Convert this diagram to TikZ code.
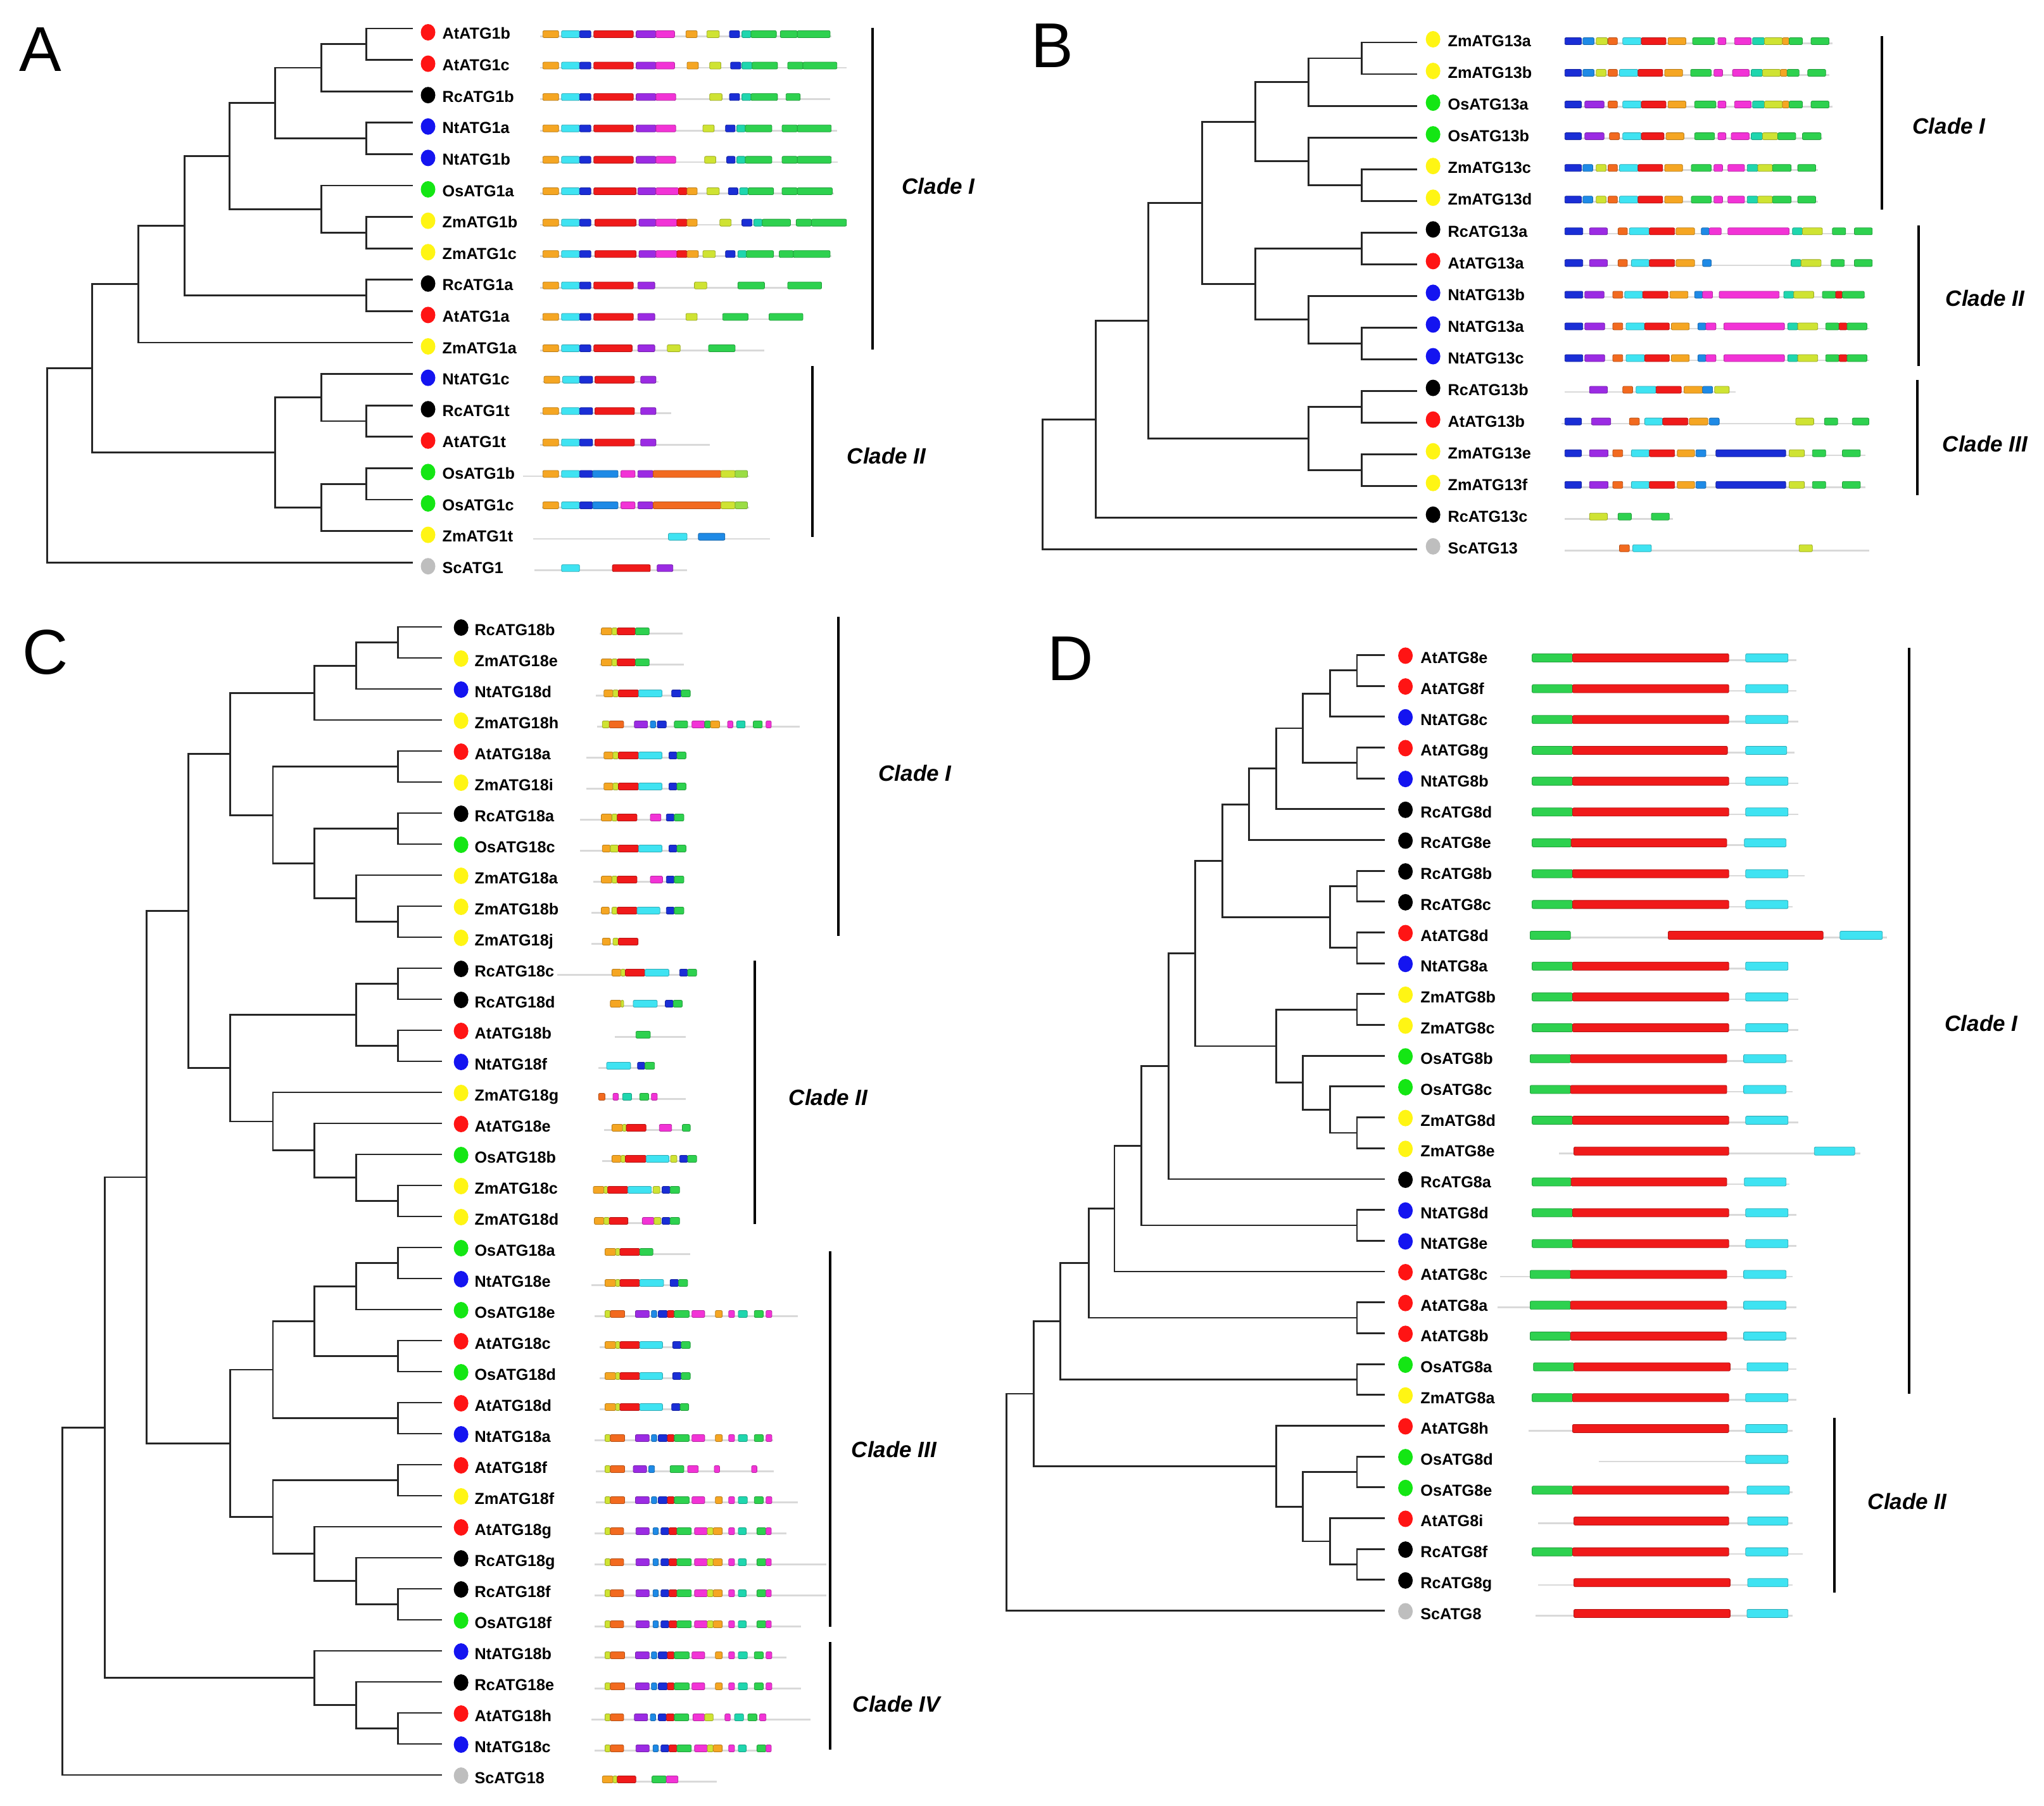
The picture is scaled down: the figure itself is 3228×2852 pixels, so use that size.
\documentclass[tikz,border=0pt]{standalone}
\usepackage{fontspec}
\setmainfont{Liberation Sans}
\usetikzlibrary{calc,shapes.geometric}
\definecolor{mO}{HTML}{F5A623}
\definecolor{mC}{HTML}{3FE3F2}
\definecolor{mB}{HTML}{1A2ED6}
\definecolor{mR}{HTML}{F01A1A}
\definecolor{mP}{HTML}{9B2BE3}
\definecolor{mM}{HTML}{F233D6}
\definecolor{mY}{HTML}{CFE333}
\definecolor{mG}{HTML}{2ED14F}
\definecolor{mT}{HTML}{1FD6AE}
\definecolor{mD}{HTML}{F26A1F}
\definecolor{mZ}{HTML}{1E8AE6}
\definecolor{mQ}{HTML}{9BDD45}
\definecolor{dR}{HTML}{FF1414}
\definecolor{dK}{HTML}{000000}
\definecolor{dB}{HTML}{1414F0}
\definecolor{dG}{HTML}{14E614}
\definecolor{dY}{HTML}{FFF514}
\definecolor{dS}{HTML}{BEBEBE}
\definecolor{bbc}{HTML}{D9D9D9}
\definecolor{brc}{HTML}{262626}
\tikzset{
 branch/.style={draw=brc, line width=1.45pt, line cap=rect, line join=miter},
 bb/.style={draw=bbc, line width=1.3pt},
 motif/.style={line width=0.4pt, rounded corners=1pt},
 gdot/.style={ellipse, minimum width=11.5pt, minimum height=13pt, inner sep=0pt, draw=none},
 lab/.style={anchor=base west, inner sep=0pt, font=\fontsize{12.6}{14}\selectfont\bfseries, text=black},
 clab/.style={inner sep=0pt, font=\fontsize{17.5}{20}\selectfont\bfseries\itshape},
 plab/.style={inner sep=0pt, font=\fontsize{50}{50}\selectfont},
 cbar/.style={line width=1.8pt},
}
\newcommand\gene[7]{%
  \pgfmathsetmacro\gy{\Yz+\Ys*#2}%
  \coordinate (#1) at (\LX,\gy);
  \draw[bb] (#5,{\gy+\MY+3.5}) -- (#6,{\gy+\MY+3.5});
  \edef\gmlist{#7}%
  \foreach \ma/\mz/\mc in \gmlist {\filldraw[motif,fill=\mc,draw=\mc!75!black] (\ma,{\gy+\MY-\BH}) rectangle (\mz,{\gy+\MY+\BH});}
  \node[gdot,fill=#3] (#1d) at (\DX,{\gy+\DY}) {};
  \node[lab] (#1n) at (\TX,{\gy+\TY}) {#4};
}
\newcommand\tj[4]{%
  \coordinate (tmpm) at ($(#3)!0.5!(#4)$);
  \coordinate (tmpx) at (#2,0);
  \coordinate (#1) at (tmpx |- tmpm);
  \draw[branch] (#3) -| (#1) |- (#4);
}
\def\LA{1135/1145/mY,1145/1172/mD,1192/1218/mP,1222/1232/mZ,1235/1252/mB,1252/1265/mR,1265/1293/mG,1298/1322/mM,1342/1355/mO,1367/1378/mM,1385/1402/mT,1415/1432/mG,1437/1448/mM}
\def\LB{1135/1145/mY,1145/1170/mD,1193/1218/mP,1225/1235/mZ,1240/1255/mB,1255/1270/mR,1270/1297/mG,1303/1327/mM,1327/1338/mY,1338/1355/mO,1367/1378/mM,1385/1400/mT,1420/1437/mG,1437/1447/mM}
\def\BC{848/873/mB,875/890/mZ,895/910/mY,913/927/mD,930/958/mC,958/995/mR,998/1025/mO,1038/1068/mG,1072/1085/mM,1093/1118/mM,1122/1138/mT,1138/1160/mY,1160/1188/mG,1198/1225/mG}
\def\BN{848/875/mB,878/908/mP,920/935/mD,940/968/mC,968/1005/mR,1008/1035/mO,1048/1060/mZ,1060/1075/mM,1087/1178/mM,1183/1198/mT,1198/1228/mY,1240/1260/mG,1260/1272/mR,1272/1302/mG}
\def\BE{848/873/mB,885/913/mP,920/935/mD,948/975/mC,975/1013/mR,1017/1043/mO,1045/1060/mZ,1075/1180/mB,1185/1208/mY,1220/1240/mG,1265/1292/mG}
\def\DS{808/868/mG,868/1100/mR,1125/1188/mC}
\def\DT{805/865/mG,865/1097/mR,1122/1185/mC}
\begin{document}
\begin{tikzpicture}[x=0.5pt,y=-0.5pt]
\useasboundingbox (0,0) rectangle (3228,2852);
\fill[white] (0,0) rectangle (3228,2852);
% ---------------- Panel A ----------------
\begin{scope}[x=0.4465pt]
\def\Yz{45}\def\Ys{49.6}\def\LX{728}\def\DX{757}\def\TX{782}\def\DY{6}\def\TY{17}\def\MY{9}\def\BH{5.5}
\gene{A0}{0}{dR}{AtATG1b}{955}{1470}{960/988/mO,993/1025/mC,1025/1045/mB,1050/1120/mR,1125/1160/mP,1160/1193/mM,1213/1233/mO,1250/1272/mY,1290/1308/mB,1312/1328/mT,1328/1373/mG,1380/1410/mG,1410/1468/mG}
\gene{A1}{1}{dR}{AtATG1c}{955}{1497}{960/988/mO,993/1025/mC,1025/1045/mB,1050/1120/mR,1125/1160/mP,1160/1193/mM,1215/1235/mO,1255/1275/mY,1292/1310/mB,1312/1330/mT,1330/1375/mG,1393/1420/mG,1420/1480/mG}
\gene{A2}{2}{dK}{RcATG1b}{955}{1468}{960/988/mO,993/1025/mC,1025/1045/mB,1050/1120/mR,1125/1160/mP,1160/1195/mM,1255/1277/mY,1290/1308/mB,1312/1328/mT,1328/1375/mG,1390/1415/mG}
\gene{A3}{3}{dB}{NtATG1a}{955}{1480}{960/988/mO,993/1025/mC,1025/1045/mB,1050/1120/mR,1125/1160/mP,1160/1195/mM,1243/1263/mY,1283/1300/mB,1303/1318/mT,1318/1365/mG,1383/1410/mG,1410/1470/mG}
\gene{A4}{4}{dB}{NtATG1b}{955}{1482}{960/988/mO,993/1025/mC,1025/1045/mB,1050/1120/mR,1125/1160/mP,1160/1195/mM,1246/1266/mY,1285/1300/mB,1303/1318/mT,1318/1365/mG,1383/1410/mG,1410/1470/mG}
\gene{A5}{5}{dG}{OsATG1a}{955}{1475}{960/988/mO,993/1025/mC,1025/1045/mB,1050/1125/mR,1128/1160/mP,1160/1200/mM,1200/1215/mR,1215/1233/mO,1250/1272/mY,1288/1305/mB,1308/1323/mT,1323/1368/mG,1383/1410/mG,1410/1472/mG}
\gene{A6}{6}{dY}{ZmATG1b}{955}{1497}{960/988/mO,993/1025/mC,1025/1045/mB,1052/1125/mR,1130/1160/mP,1160/1197/mM,1197/1215/mR,1215/1233/mO,1273/1293/mY,1312/1330/mB,1333/1348/mT,1348/1398/mG,1408/1435/mG,1435/1497/mG}
\gene{A7}{7}{dY}{ZmATG1c}{955}{1470}{960/988/mO,993/1025/mC,1025/1045/mB,1052/1125/mR,1130/1160/mP,1160/1197/mM,1197/1215/mR,1215/1235/mO,1243/1265/mY,1283/1300/mB,1305/1320/mT,1320/1368/mG,1378/1403/mG,1403/1468/mG}
\gene{A8}{8}{dK}{RcATG1a}{955}{1453}{960/988/mO,993/1025/mC,1025/1045/mB,1050/1120/mR,1128/1158/mP,1228/1250/mY,1305/1352/mG,1393/1453/mG}
\gene{A9}{9}{dR}{AtATG1a}{955}{1420}{960/988/mO,993/1025/mC,1025/1045/mB,1050/1120/mR,1128/1158/mP,1213/1233/mY,1278/1323/mG,1360/1420/mG}
\gene{A10}{10}{dY}{ZmATG1a}{955}{1352}{960/988/mO,993/1025/mC,1025/1045/mB,1050/1118/mR,1128/1158/mP,1180/1203/mY,1253/1300/mG}
\gene{A11}{11}{dB}{NtATG1c}{960}{1165}{962/990/mO,995/1025/mC,1025/1048/mB,1052/1122/mR,1133/1160/mP}
\gene{A12}{12}{dK}{RcATG1t}{955}{1187}{960/988/mO,993/1025/mC,1025/1048/mB,1052/1122/mR,1133/1160/mP}
\gene{A13}{13}{dR}{AtATG1t}{955}{1255}{960/988/mO,993/1025/mC,1025/1048/mB,1052/1122/mR,1133/1160/mP}
\gene{A14}{14}{dG}{OsATG1b}{925}{1325}{960/988/mO,993/1025/mC,1025/1048/mB,1048/1093/mZ,1098/1123/mM,1128/1155/mP,1155/1275/mD,1275/1300/mY,1300/1322/mQ}
\gene{A15}{15}{dG}{OsATG1c}{958}{1325}{960/988/mO,993/1025/mC,1025/1048/mB,1048/1093/mZ,1098/1123/mM,1128/1155/mP,1155/1275/mD,1275/1300/mY,1300/1322/mQ}
\gene{A16}{16}{dY}{ZmATG1t}{943}{1362}{1182/1215/mC,1235/1282/mZ}
\gene{A17}{17}{dS}{ScATG1}{945}{1215}{993/1025/mC,1083/1150/mR,1162/1190/mP}
\tj{a1}{648}{A0}{A1}
\tj{a2}{568}{a1}{A2}
\tj{a3}{648}{A3}{A4}
\tj{a4}{487}{a2}{a3}
\tj{a5}{648}{A6}{A7}
\tj{a6}{568}{A5}{a5}
\tj{a7}{406}{a4}{a6}
\tj{a8}{648}{A8}{A9}
\tj{a9}{326}{a7}{a8}
\tj{a10}{245}{a9}{A10}
\tj{a11}{648}{A12}{A13}
\tj{a12}{568}{A11}{a11}
\tj{a13}{648}{A14}{A15}
\tj{a14}{568}{a13}{A16}
\tj{a15}{487}{a12}{a14}
\tj{a16}{163}{a10}{a15}
\tj{a17}{83}{a16}{A17}
\end{scope}
% ---------------- Panel B ----------------
\begin{scope}[xshift=790pt,x=0.5255pt]
\def\Yz{67}\def\Ys{50.05}\def\LX{625}\def\DX{650}\def\TX{672}\def\DY{-5}\def\TY{6.7}\def\MY{-2}\def\BH{5.5}
\gene{B0}{0}{dY}{ZmATG13a}{848}{1250}{848/873/mB,875/892/mZ,895/912/mY,913/927/mD,935/963/mC,963/1000/mR,1003/1030/mO,1040/1073/mG,1078/1090/mM,1103/1128/mM,1130/1148/mT,1148/1175/mY,1175/1185/mO,1185/1205/mG,1218/1245/mG}
\gene{B1}{1}{dY}{ZmATG13b}{848}{1245}{848/873/mB,875/892/mZ,895/910/mY,913/927/mD,930/958/mC,958/995/mR,998/1025/mO,1037/1068/mG,1072/1085/mM,1100/1125/mM,1128/1145/mT,1145/1172/mY,1172/1182/mO,1182/1200/mG,1213/1240/mG}
\gene{B2}{2}{dG}{OsATG13a}{848}{1250}{848/873/mB,878/907/mP,913/927/mD,935/963/mC,963/1000/mR,1003/1030/mO,1043/1075/mG,1078/1090/mM,1103/1128/mM,1130/1148/mT,1148/1175/mY,1175/1185/mO,1185/1205/mG,1218/1245/mG}
\gene{B3}{3}{dG}{OsATG13b}{848}{1235}{848/873/mB,878/907/mP,915/930/mD,935/963/mC,963/997/mR,1000/1027/mO,1043/1073/mG,1078/1090/mM,1098/1125/mM,1128/1145/mT,1145/1168/mY,1168/1195/mG,1205/1233/mG}
\gene{B4}{4}{dY}{ZmATG13c}{848}{1228}{\BC}
\gene{B5}{5}{dY}{ZmATG13d}{848}{1228}{\BC}
\gene{B6}{6}{dK}{RcATG13a}{848}{1310}{848/875/mB,885/912/mP,928/942/mD,945/975/mC,975/1013/mR,1015/1043/mO,1053/1065/mZ,1065/1083/mM,1093/1185/mM,1190/1205/mT,1205/1235/mY,1250/1270/mG,1283/1310/mG}
\gene{B7}{7}{dR}{AtATG13a}{848}{1310}{848/875/mB,885/912/mP,928/942/mD,948/975/mC,975/1013/mR,1015/1043/mO,1055/1068/mZ,1188/1203/mT,1203/1233/mY,1248/1268/mG,1283/1310/mG}
\gene{B8}{8}{dB}{NtATG13b}{848}{1300}{848/875/mB,878/907/mP,920/935/mD,938/965/mC,965/1003/mR,1006/1033/mO,1043/1055/mZ,1055/1070/mM,1080/1170/mM,1177/1192/mT,1192/1222/mY,1235/1255/mG,1255/1265/mR,1265/1298/mG}
\gene{B9}{9}{dB}{NtATG13a}{848}{1305}{\BN}
\gene{B10}{10}{dB}{NtATG13c}{848}{1305}{\BN}
\gene{B11}{11}{dK}{RcATG13b}{848}{1105}{885/912/mP,935/950/mD,955/985/mC,985/1023/mR,1027/1055/mO,1055/1070/mZ,1073/1095/mY}
\gene{B12}{12}{dR}{AtATG13b}{843}{1305}{848/873/mB,888/917/mP,945/960/mD,968/995/mC,995/1033/mR,1035/1063/mO,1065/1080/mZ,1195/1222/mY,1238/1258/mG,1280/1305/mG}
\gene{B13}{13}{dY}{ZmATG13e}{848}{1300}{\BE}
\gene{B14}{14}{dY}{ZmATG13f}{848}{1300}{\BE}
\gene{B15}{15}{dK}{RcATG13c}{848}{1010}{885/912/mY,928/948/mG,978/1005/mG}
\gene{B16}{16}{dS}{ScATG13}{848}{1305}{930/945/mD,950/978/mC,1200/1220/mY}
\tj{b1}{543}{B0}{B1}
\tj{b2}{463}{b1}{B2}
\tj{b3}{543}{B4}{B5}
\tj{b4}{463}{B3}{b3}
\tj{b5}{383}{b2}{b4}
\tj{b6}{543}{B6}{B7}
\tj{b7}{543}{B9}{B10}
\tj{b8}{463}{B8}{b7}
\tj{b9}{383}{b6}{b8}
\tj{b10}{303}{b5}{b9}
\tj{b11}{543}{B11}{B12}
\tj{b12}{543}{B13}{B14}
\tj{b13}{463}{b11}{b12}
\tj{b14}{222}{b10}{b13}
\tj{b15}{143}{b14}{B15}
\tj{b16}{63}{b15}{B16}
\end{scope}
% ---------------- Panel C ----------------
\begin{scope}[x=0.4209pt]
\def\Yz{990}\def\Ys{49}\def\LX{828}\def\DX{865}\def\TX{890}\def\DY{1}\def\TY{13.5}\def\MY{7}\def\BH{5.5}
\gene{C0}{0}{dK}{RcATG18b}{1125}{1280}{1128/1148/mO,1148/1158/mY,1158/1192/mR,1192/1218/mG}
\gene{C1}{1}{dY}{ZmATG18e}{1125}{1283}{1128/1148/mO,1148/1158/mY,1158/1192/mR,1192/1218/mG}
\gene{C2}{2}{dB}{NtATG18d}{1118}{1295}{1133/1150/mO,1150/1160/mY,1160/1198/mR,1198/1242/mC,1260/1278/mB,1278/1295/mG}
\gene{C3}{3}{dY}{ZmATG18h}{1120}{1500}{1130/1143/mY,1143/1170/mD,1190/1215/mP,1220/1230/mZ,1233/1250/mB,1265/1290/mG,1298/1322/mM,1322/1333/mG,1333/1350/mO,1365/1375/mM,1382/1398/mT,1413/1430/mG,1437/1447/mM}
\gene{C4}{4}{dR}{AtATG18a}{1100}{1287}{1133/1150/mO,1150/1160/mY,1160/1198/mR,1198/1242/mC,1255/1270/mB,1270/1287/mG}
\gene{C5}{5}{dY}{ZmATG18i}{1100}{1287}{1133/1150/mO,1150/1160/mY,1160/1198/mR,1198/1242/mC,1255/1270/mB,1270/1287/mG}
\gene{C6}{6}{dK}{RcATG18a}{1088}{1283}{1128/1148/mO,1148/1158/mY,1158/1195/mR,1220/1240/mM,1250/1265/mB,1265/1283/mG}
\gene{C7}{7}{dG}{OsATG18c}{1088}{1287}{1130/1145/mO,1145/1160/mY,1160/1198/mR,1198/1242/mC,1255/1270/mB,1270/1287/mG}
\gene{C8}{8}{dY}{ZmATG18a}{1113}{1283}{1128/1148/mO,1148/1158/mY,1158/1195/mR,1220/1243/mM,1250/1265/mB,1265/1283/mG}
\gene{C9}{9}{dY}{ZmATG18b}{1110}{1283}{1128/1143/mO,1148/1158/mY,1158/1195/mR,1195/1238/mC,1250/1265/mB,1265/1283/mG}
\gene{C10}{10}{dY}{ZmATG18j}{1110}{1197}{1130/1145/mO,1150/1160/mY,1160/1197/mR}
\gene{C11}{11}{dK}{RcATG18c}{1045}{1307}{1148/1165/mO,1165/1173/mY,1173/1210/mR,1210/1255/mC,1275/1290/mB,1290/1307/mG}
\gene{C12}{12}{dK}{RcATG18d}{1145}{1280}{1145/1165/mO,1165/1170/mY,1188/1233/mC,1248/1263/mB,1263/1280/mG}
\gene{C13}{13}{dR}{AtATG18b}{1153}{1287}{1193/1220/mG}
\gene{C14}{14}{dB}{NtATG18f}{1123}{1228}{1138/1183/mC,1196/1210/mB,1210/1228/mG}
\gene{C15}{15}{dY}{ZmATG18g}{1123}{1287}{1123/1135/mD,1150/1160/mM,1168/1185/mT,1200/1217/mG,1222/1233/mM}
\gene{C16}{16}{dR}{AtATG18e}{1133}{1295}{1148/1168/mO,1168/1175/mY,1175/1212/mR,1237/1260/mM,1280/1295/mG}
\gene{C17}{17}{dG}{OsATG18b}{1130}{1307}{1148/1165/mO,1165/1173/mY,1173/1212/mR,1212/1255/mC,1258/1270/mY,1275/1290/mB,1290/1307/mG}
\gene{C18}{18}{dY}{ZmATG18c}{1113}{1275}{1113/1133/mO,1133/1140/mY,1140/1178/mR,1178/1222/mC,1225/1238/mY,1242/1257/mB,1257/1275/mG}
\gene{C19}{19}{dY}{ZmATG18d}{1115}{1275}{1115/1133/mO,1133/1143/mY,1143/1178/mR,1205/1227/mM,1227/1240/mY,1242/1257/mB,1257/1275/mG}
\gene{C20}{20}{dG}{OsATG18a}{1135}{1295}{1135/1155/mO,1155/1163/mY,1163/1200/mR,1200/1225/mG}
\gene{C21}{21}{dB}{NtATG18e}{1110}{1290}{1135/1155/mO,1155/1163/mY,1163/1200/mR,1200/1245/mC,1257/1273/mB,1273/1290/mG}
\gene{C22}{22}{dG}{OsATG18e}{1115}{1497}{\LA}
\gene{C23}{23}{dR}{AtATG18c}{1125}{1295}{1135/1155/mO,1155/1163/mY,1163/1200/mR,1200/1243/mC,1262/1278/mB,1278/1295/mG}
\gene{C24}{24}{dG}{OsATG18d}{1125}{1295}{1135/1155/mO,1155/1163/mY,1163/1200/mR,1200/1243/mC,1262/1278/mB,1278/1295/mG}
\gene{C25}{25}{dR}{AtATG18d}{1125}{1292}{1135/1155/mO,1155/1163/mY,1163/1200/mR,1200/1243/mC,1260/1276/mB,1276/1292/mG}
\gene{C26}{26}{dB}{NtATG18a}{1115}{1450}{\LA}
\gene{C27}{27}{dR}{AtATG18f}{1118}{1452}{1135/1145/mY,1145/1172/mD,1188/1213/mP,1217/1228/mZ,1257/1283/mG,1290/1310/mM,1340/1350/mM,1410/1420/mM}
\gene{C28}{28}{dY}{ZmATG18f}{1118}{1497}{\LA}
\gene{C29}{29}{dR}{AtATG18g}{1115}{1475}{\LB}
\gene{C30}{30}{dK}{RcATG18g}{1115}{1550}{\LB}
\gene{C31}{31}{dK}{RcATG18f}{1115}{1550}{\LB}
\gene{C32}{32}{dG}{OsATG18f}{1115}{1503}{\LB}
\gene{C33}{33}{dB}{NtATG18b}{1115}{1475}{\LA}
\gene{C34}{34}{dK}{RcATG18e}{1115}{1503}{\LA}
\gene{C35}{35}{dR}{AtATG18h}{1110}{1520}{1135/1145/mY,1145/1170/mD,1190/1215/mP,1220/1230/mZ,1235/1250/mB,1250/1265/mR,1265/1292/mG,1300/1322/mM,1322/1338/mY,1360/1370/mM,1378/1395/mT,1403/1420/mG,1425/1437/mM}
\gene{C36}{36}{dB}{NtATG18c}{1115}{1447}{\LB}
\gene{C37}{37}{dS}{ScATG18}{1130}{1345}{1130/1150/mO,1150/1158/mY,1158/1193/mR,1223/1250/mG,1250/1272/mM}
\tj{c1}{747}{C0}{C1}
\tj{c2}{668}{c1}{C2}
\tj{c3}{590}{c2}{C3}
\tj{c4}{747}{C4}{C5}
\tj{c5}{747}{C6}{C7}
\tj{c6}{747}{C9}{C10}
\tj{c7}{668}{C8}{c6}
\tj{c8}{590}{c5}{c7}
\tj{c9}{512}{c4}{c8}
\tj{c10}{432}{c3}{c9}
\tj{c11}{747}{C11}{C12}
\tj{c12}{747}{C13}{C14}
\tj{c13}{668}{c11}{c12}
\tj{c14}{747}{C18}{C19}
\tj{c15}{668}{C17}{c14}
\tj{c16}{590}{C16}{c15}
\tj{c17}{512}{C15}{c16}
\tj{c18}{432}{c13}{c17}
\tj{c19}{353}{c10}{c18}
\tj{c20}{747}{C20}{C21}
\tj{c21}{668}{c20}{C22}
\tj{c22}{747}{C23}{C24}
\tj{c23}{590}{c21}{c22}
\tj{c24}{747}{C25}{C26}
\tj{c25}{512}{c23}{c24}
\tj{c26}{747}{C27}{C28}
\tj{c27}{747}{C31}{C32}
\tj{c28}{668}{C30}{c27}
\tj{c29}{590}{C29}{c28}
\tj{c30}{512}{c26}{c29}
\tj{c31}{432}{c25}{c30}
\tj{c32}{275}{c19}{c31}
\tj{c33}{747}{C35}{C36}
\tj{c34}{668}{C34}{c33}
\tj{c35}{590}{C33}{c34}
\tj{c36}{197}{c32}{c35}
\tj{c37}{117}{c36}{C37}
\end{scope}
% ---------------- Panel D ----------------
\begin{scope}[xshift=780pt,x=0.5319pt]
\def\Yz{1034.4}\def\Ys{48.68}\def\LX{588}\def\DX{620}\def\TX{642}\def\DY{1}\def\TY{13.5}\def\MY{4.5}\def\BH{6.5}
\gene{D0}{0}{dR}{AtATG8e}{808}{1200}{\DS}
\gene{D1}{1}{dR}{AtATG8f}{808}{1200}{\DS}
\gene{D2}{2}{dB}{NtATG8c}{808}{1203}{\DS}
\gene{D3}{3}{dR}{AtATG8g}{808}{1198}{808/868/mG,868/1098/mR,1125/1186/mC}
\gene{D4}{4}{dB}{NtATG8b}{808}{1203}{\DS}
\gene{D5}{5}{dK}{RcATG8d}{808}{1203}{\DS}
\gene{D6}{6}{dK}{RcATG8e}{808}{1185}{808/866/mG,866/1097/mR,1123/1185/mC}
\gene{D7}{7}{dK}{RcATG8b}{808}{1213}{\DS}
\gene{D8}{8}{dK}{RcATG8c}{808}{1195}{\DS}
\gene{D9}{9}{dR}{AtATG8d}{805}{1335}{805/865/mG,1010/1240/mR,1265/1328/mC}
\gene{D10}{10}{dB}{NtATG8a}{808}{1188}{\DS}
\gene{D11}{11}{dY}{ZmATG8b}{808}{1203}{\DS}
\gene{D12}{12}{dY}{ZmATG8c}{808}{1203}{\DS}
\gene{D13}{13}{dG}{OsATG8b}{805}{1195}{\DT}
\gene{D14}{14}{dG}{OsATG8c}{805}{1195}{\DT}
\gene{D15}{15}{dY}{ZmATG8d}{808}{1203}{\DS}
\gene{D16}{16}{dY}{ZmATG8e}{848}{1295}{870/1100/mR,1227/1287/mC}
\gene{D17}{17}{dK}{RcATG8a}{808}{1190}{808/866/mG,866/1097/mR,1123/1185/mC}
\gene{D18}{18}{dB}{NtATG8d}{808}{1200}{\DS}
\gene{D19}{19}{dB}{NtATG8e}{808}{1200}{\DS}
\gene{D20}{20}{dR}{AtATG8c}{760}{1195}{\DT}
\gene{D21}{21}{dR}{AtATG8a}{757}{1200}{\DT}
\gene{D22}{22}{dR}{AtATG8b}{805}{1200}{\DT}
\gene{D23}{23}{dG}{OsATG8a}{810}{1200}{810/870/mG,870/1102/mR,1127/1188/mC}
\gene{D24}{24}{dY}{ZmATG8a}{808}{1200}{\DS}
\gene{D25}{25}{dR}{AtATG8h}{803}{1195}{868/1100/mR,1125/1187/mC}
\gene{D26}{26}{dG}{OsATG8d}{907}{1190}{1125/1188/mC}
\gene{D27}{27}{dG}{OsATG8e}{808}{1195}{808/868/mG,868/1100/mR,1127/1190/mC}
\gene{D28}{28}{dR}{AtATG8i}{817}{1195}{870/1100/mR,1128/1188/mC}
\gene{D29}{29}{dK}{RcATG8f}{808}{1210}{\DS}
\gene{D30}{30}{dK}{RcATG8g}{817}{1195}{870/1102/mR,1128/1188/mC}
\gene{D31}{31}{dS}{ScATG8}{813}{1195}{870/1102/mR,1127/1188/mC}
\tj{d1}{548}{D0}{D1}
\tj{d2}{508}{d1}{D2}
\tj{d3}{548}{D3}{D4}
\tj{d4}{468}{d2}{d3}
\tj{d5}{428}{d4}{D5}
\tj{d6}{388}{d5}{D6}
\tj{d7}{548}{D7}{D8}
\tj{d8}{548}{D9}{D10}
\tj{d9}{508}{d7}{d8}
\tj{d10}{348}{d6}{d9}
\tj{d11}{548}{D11}{D12}
\tj{d12}{548}{D15}{D16}
\tj{d13}{508}{D14}{d12}
\tj{d14}{468}{D13}{d13}
\tj{d15}{428}{d11}{d14}
\tj{d16}{308}{d10}{d15}
\tj{d17}{268}{d16}{D17}
\tj{d18}{548}{D18}{D19}
\tj{d19}{228}{d17}{d18}
\tj{d20}{188}{d19}{D20}
\tj{d21}{548}{D21}{D22}
\tj{d22}{150}{d20}{d21}
\tj{d23}{548}{D23}{D24}
\tj{d24}{108}{d22}{d23}
\tj{d25}{548}{D26}{D27}
\tj{d26}{548}{D29}{D30}
\tj{d27}{508}{D28}{d26}
\tj{d28}{468}{d25}{d27}
\tj{d29}{428}{D25}{d28}
\tj{d30}{68}{d24}{d29}
\tj{d31}{28}{d30}{D31}
\end{scope}
% ---------------- clade bars and labels ----------------
\draw[cbar] (1378,44) -- (1378,552);
\draw[cbar] (1283,578) -- (1283,848);
\node[clab] (clA1) at (1482,294) {Clade I};
\node[clab] (clA2) at (1400,720) {Clade II};
\draw[cbar] (2972,57) -- (2972,331);
\draw[cbar] (3030,356) -- (3030,578);
\draw[cbar] (3028,600) -- (3028,782);
\node[clab] (clB1) at (3078,199) {Clade I};
\node[clab] (clB2) at (3135,471) {Clade II};
\node[clab] (clB3) at (3135,701) {Clade III};
\draw[cbar] (1324,974) -- (1324,1478);
\draw[cbar] (1192,1517) -- (1192,1933);
\draw[cbar] (1311,1976) -- (1311,2569);
\draw[cbar] (1311,2593) -- (1311,2763);
\node[clab] (clC1) at (1445,1221) {Clade I};
\node[clab] (clC2) at (1308,1733) {Clade II};
\node[clab] (clC3) at (1412,2289) {Clade III};
\node[clab] (clC4) at (1416,2691) {Clade IV};
\draw[cbar] (3015,1023) -- (3015,2201);
\draw[cbar] (2897,2239) -- (2897,2515);
\node[clab] (clD1) at (3129,1616) {Clade I};
\node[clab] (clD2) at (3012,2371) {Clade II};
% ---------------- panel letters ----------------
\node[plab] (pA) at (64,78) {A};
\node[plab] (pB) at (1662,72) {B};
\node[plab] (pC) at (72,1030) {C};
\node[plab] (pD) at (1691,1040) {D};
\end{tikzpicture}
\end{document}
